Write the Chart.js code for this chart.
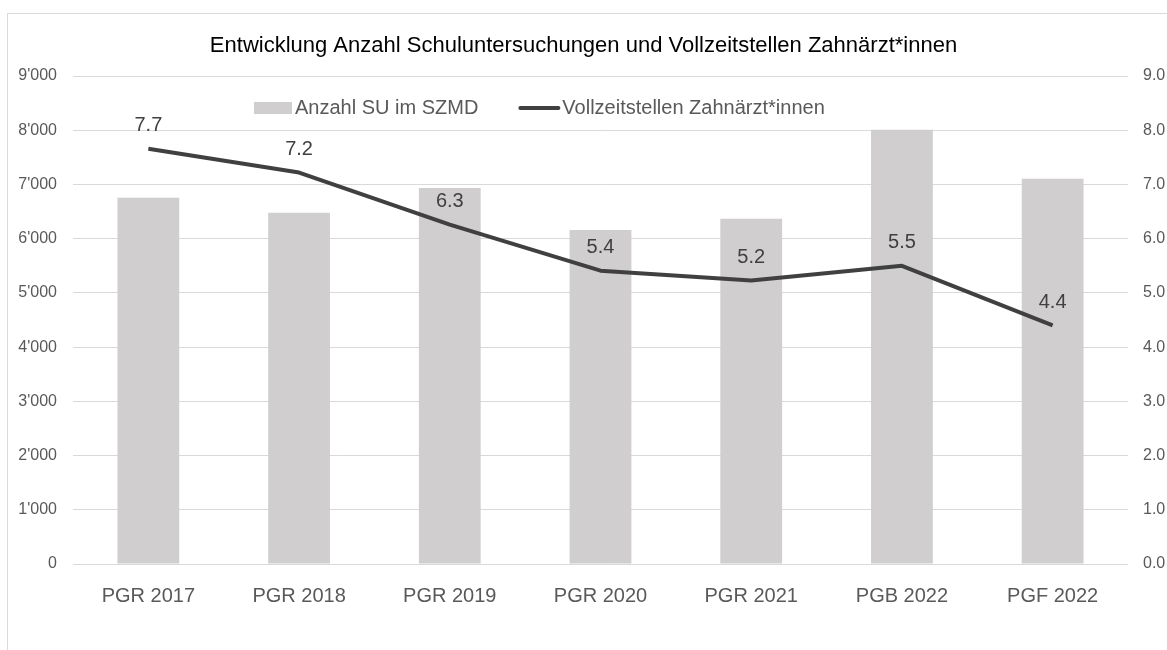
<!DOCTYPE html>
<html>
<head>
<meta charset="utf-8">
<script src="https://cdn.jsdelivr.net/npm/chart.js@4"></script>
<style>
  html, body { margin: 0; padding: 0; background: #fff; }
  #wrap { position: relative; width: 1167px; height: 650px; overflow: hidden; }
  #frame { position: absolute; left: 7px; top: 13px; width: 1300px; height: 800px; border: 1px solid #d9d9d9; }
  #c { position: absolute; left: 0; top: 0; }
</style>
</head>
<body>
<div id="wrap">
  <div id="frame"></div>
  <canvas id="c" width="1167" height="650"></canvas>
</div>
<script>
'use strict';

var FONT = '"Liberation Sans", Arial, sans-serif';

// data
var categories = ['PGR 2017', 'PGR 2018', 'PGR 2019', 'PGR 2020', 'PGR 2021', 'PGB 2022', 'PGF 2022'];
var suCounts   = [6755, 6480, 6933, 6160, 6368, 8010, 7104];
var fteDentists = [7.66, 7.22, 6.26, 5.41, 5.23, 5.5, 4.4];
var leftTicks  = [0, 1000, 2000, 3000, 4000, 5000, 6000, 7000, 8000, 9000];
var rightTicks = [0, 1, 2, 3, 4, 5, 6, 7, 8, 9];

var BAR_LABEL  = 'Anzahl SU im SZMD';
var LINE_LABEL = 'Vollzeitstellen Zahnärzt*innen';

var COLORS = {
  bar:  '#d0cece',
  line: '#404040',
  grid: '#d9d9d9',
  tick: '#595959',
  title:'#000000'
};

function fmtThousands(v) {
  return String(v).replace(/\B(?=(\d{3})+(?!\d))/g, "'");
}

// legend drawn inside the plot area, like the original
var insideLegend = {
  id: 'insideLegend',
  afterDraw: function (chart) {
    var ctx = chart.ctx;
    var y = 108;
    var x = 254;
    ctx.save();
    ctx.font = '20px ' + FONT;
    ctx.textBaseline = 'middle';
    ctx.fillStyle = COLORS.bar;
    ctx.fillRect(x, y - 6, 38, 12);
    ctx.fillStyle = COLORS.tick;
    ctx.fillText(BAR_LABEL, x + 41, y);
    x = x + 41 + ctx.measureText(BAR_LABEL).width + 42;
    ctx.strokeStyle = COLORS.line;
    ctx.lineWidth = 4;
    ctx.lineCap = 'round';
    ctx.beginPath();
    ctx.moveTo(x, y);
    ctx.lineTo(x + 38, y);
    ctx.stroke();
    ctx.fillText(LINE_LABEL, x + 42, y);
    ctx.restore();
  }
};

// value labels above the line points
var pointLabels = {
  id: 'pointLabels',
  afterDatasetsDraw: function (chart) {
    var ctx = chart.ctx;
    var meta = chart.getDatasetMeta(1);
    ctx.save();
    ctx.font = '20px ' + FONT;
    ctx.fillStyle = COLORS.line;
    ctx.textAlign = 'center';
    ctx.textBaseline = 'middle';
    meta.data.forEach(function (pt, i) {
      ctx.fillText(fteDentists[i].toFixed(1), pt.x, pt.y - 23);
    });
    ctx.restore();
  }
};

new Chart(document.getElementById('c'), {
  data: {
    labels: categories,
    datasets: [
      {
        type: 'bar',
        label: BAR_LABEL,
        data: suCounts,
        backgroundColor: COLORS.bar,
        barPercentage: 0.41,
        categoryPercentage: 1,
        yAxisID: 'y',
        order: 1
      },
      {
        type: 'line',
        label: LINE_LABEL,
        data: fteDentists,
        borderColor: COLORS.line,
        borderWidth: 4,
        pointRadius: 0,
        tension: 0,
        borderJoinStyle: 'round',
        yAxisID: 'y1',
        order: 0
      }
    ]
  },
  options: {
    responsive: false,
    animation: false,
    layout: { padding: { left: 0, right: 0, top: 0, bottom: 36 } },
    plugins: {
      legend: { display: false },
      tooltip: { enabled: false },
      title: {
        display: true,
        text: 'Entwicklung Anzahl Schuluntersuchungen und Vollzeitstellen Zahnärzt*innen',
        color: COLORS.title,
        font: { family: FONT, size: 22, weight: 'normal', lineHeight: 1.2 },
        padding: { top: 33, bottom: 16.6 }
      }
    },
    scales: {
      x: {
        grid: { display: false },
        border: { display: false },
        ticks: { color: COLORS.tick, font: { family: FONT, size: 20 }, padding: 12 },
        afterFit: function (s) { s.height = 50; }
      },
      y: {
        position: 'left',
        min: 0, max: 9000,
        afterBuildTicks: function (s) { s.ticks = leftTicks.map(function (v) { return { value: v }; }); },
        grid: { color: COLORS.grid, lineWidth: 1, drawTicks: false },
        border: { display: false },
        ticks: {
          color: COLORS.tick, font: { family: FONT, size: 16 }, padding: 16,
          callback: function (v) { return fmtThousands(v); }
        },
        afterFit: function (s) { s.width = 73; }
      },
      y1: {
        position: 'right',
        min: 0, max: 9,
        afterBuildTicks: function (s) { s.ticks = rightTicks.map(function (v) { return { value: v }; }); },
        grid: { display: false, drawTicks: false },
        border: { display: false },
        ticks: {
          color: COLORS.tick, font: { family: FONT, size: 16 }, padding: 15,
          callback: function (v) { return Number(v).toFixed(1); }
        },
        afterFit: function (s) { s.width = 39; }
      }
    }
  },
  plugins: [insideLegend, pointLabels]
});
</script>
</body>
</html>
